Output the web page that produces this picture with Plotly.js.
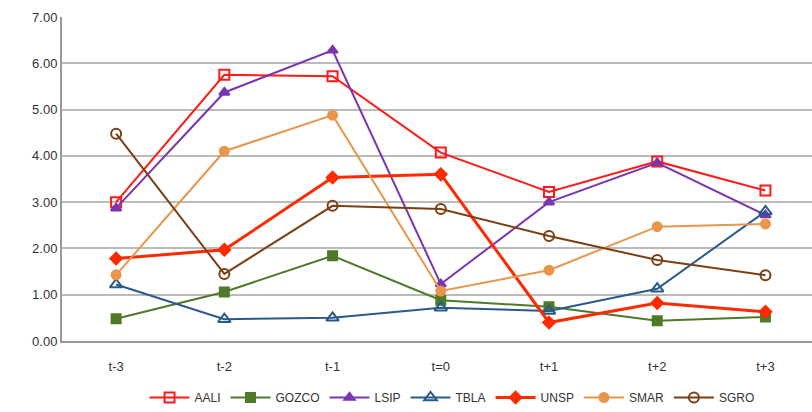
<!DOCTYPE html><html><head><script src="https://cdn.plot.ly/plotly-3.0.1.min.js"></script></head><body style="margin:0"><div id="c" style="width:812px;height:412px"></div><script>
const categories=["t-3","t-2","t-1","t=0","t+1","t+2","t+3"];
const AALI=[3.0,5.75,5.72,4.07,3.22,3.88,3.25];
const GOZCO=[0.48,1.06,1.84,0.88,0.74,0.44,0.52];
const LSIP=[2.87,5.37,6.28,1.23,3.0,3.85,2.72];
const TBLA=[1.22,0.47,0.5,0.72,0.65,1.13,2.8];
const UNSP=[1.78,1.97,3.53,3.6,0.4,0.82,0.63];
const SMAR=[1.43,4.1,4.88,1.08,1.53,2.47,2.53];
const SGRO=[4.48,1.45,2.92,2.85,2.27,1.75,1.42];
function tr(name,y,color,sym,w,ms){return {x:categories,y:y,name:name,type:'scatter',mode:'lines+markers',line:{color:color,width:w},marker:{color:color,symbol:sym,size:ms,line:{color:color,width:2}}};}
const data=[
tr('AALI',AALI,'#ff1a1a','square-open',2,10),
tr('GOZCO',GOZCO,'#4e7a2a','square',2,9),
tr('LSIP',LSIP,'#7a35b0','triangle-up',2,9),
tr('TBLA',TBLA,'#2a5a8c','triangle-up-open',2,11),
tr('UNSP',UNSP,'#ff2a00','diamond',3,9),
tr('SMAR',SMAR,'#e8964c','circle',2,9),
tr('SGRO',SGRO,'#7b3f14','circle-open',2,10)];
const layout={width:812,height:412,margin:{l:62,r:0,t:17,b:69},paper_bgcolor:'#fff',plot_bgcolor:'#fff',showlegend:true,
font:{family:'Liberation Sans, Arial',size:13,color:'#333'},
xaxis:{type:'category',range:[-0.5,6.43],showgrid:false,showline:true,linecolor:'#999',linewidth:2,ticks:'',ticklabelstandoff:12,tickfont:{size:13}},
yaxis:{range:[0,7],dtick:1,tickformat:'.2f',showgrid:true,gridcolor:'#bbb',gridwidth:2,showline:true,linecolor:'#999',linewidth:2,zeroline:false,ticks:'',tickfont:{size:13}},
legend:{orientation:'h',x:0.52,xanchor:'center',y:-0.13,yanchor:'top',font:{size:12},itemwidth:40,tracegroupgap:0}};
Plotly.newPlot('c',data,layout,{displayModeBar:false});
</script></body></html>
